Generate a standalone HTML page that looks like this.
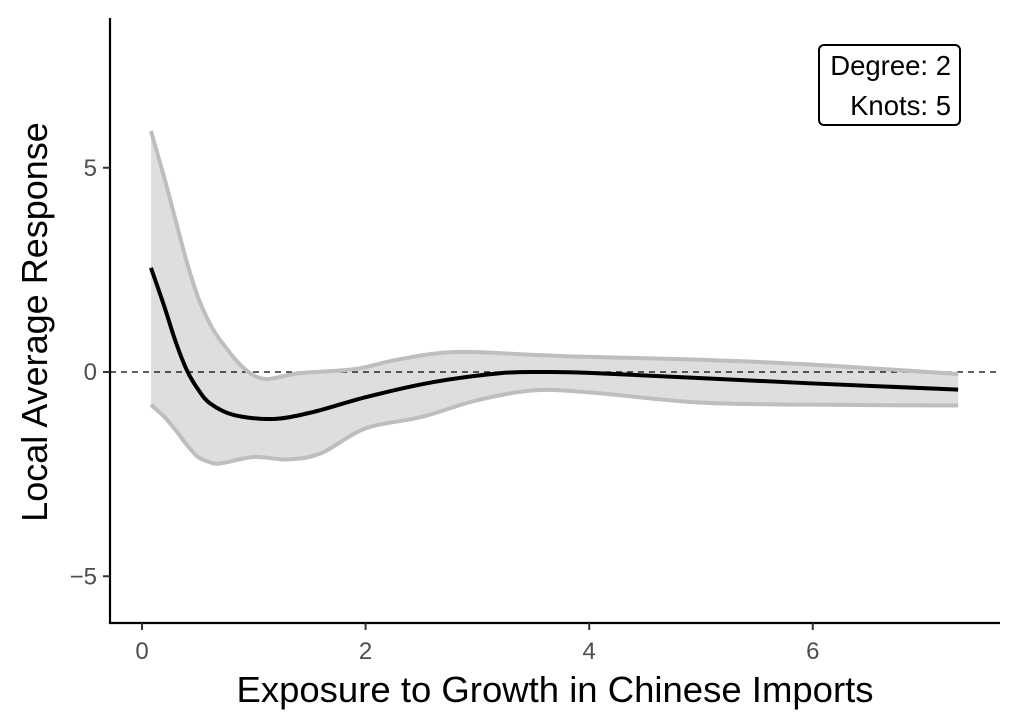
<!DOCTYPE html>
<html><head><meta charset="utf-8"><style>
body{margin:0;background:#fff}
svg{display:block;font-family:"Liberation Sans",sans-serif}
</style></head><body>
<svg width="1019" height="728">
<g id="plot"></g>
<line x1="110" y1="18" x2="110" y2="624" stroke="#000" stroke-width="2.2"/>
<line x1="109" y1="623" x2="1000" y2="623" stroke="#000" stroke-width="2.2"/>
<g id="ticks"></g>
<text x="47" y="322" font-size="36" text-anchor="middle" transform="rotate(-90 47 322)">Local Average Response</text>
<text x="555" y="702" font-size="36.5" text-anchor="middle">Exposure to Growth in Chinese Imports</text>
<g>
<rect x="819" y="45" width="141" height="80" rx="5" fill="#fff" stroke="#000" stroke-width="2"/>
<text x="951" y="75" font-size="27.5" text-anchor="end">Degree: 2</text>
<text x="951" y="115" font-size="27.5" text-anchor="end">Knots: 5</text>
</g>
</svg>
<script>
const fitX=[0.08,0.2,0.3,0.4,0.5,0.61,0.82,1.17,1.53,2.01,2.6,3.2,3.6,4,5,6,7.3];
const fitY=[2.55,1.6,0.75,0.05,-0.42,-0.77,-1.05,-1.15,-0.98,-0.61,-0.25,-0.03,0,-0.02,-0.15,-0.28,-0.43];
const upX=[0.08,0.2,0.3,0.4,0.5,0.6,0.7,0.9,1.1,1.4,1.9,2.3,2.8,3.5,4,5,6,7.3];
const upY=[5.9,4.75,3.72,2.7,1.84,1.22,0.78,0.12,-0.17,-0.03,0.07,0.31,0.49,0.42,0.37,0.3,0.18,-0.05];
const loX=[0.08,0.2,0.3,0.4,0.5,0.6,0.7,1.0,1.3,1.6,2.0,2.5,3.0,3.5,4,5,6,7.3];
const loY=[-0.8,-1.1,-1.42,-1.78,-2.08,-2.2,-2.24,-2.08,-2.14,-1.99,-1.38,-1.1,-0.69,-0.45,-0.5,-0.75,-0.8,-0.82];
const xTicks=[0,2,4,6];
const yTicks=[-5,0,5];
const yTickLabels=["\u22125","0","5"];
const sx=v=>142+v*111.8, sy=v=>372-v*40.85;
const NS="http://www.w3.org/2000/svg";
function mk(tag,attrs,parent){const e=document.createElementNS(NS,tag);for(const k in attrs)e.setAttribute(k,attrs[k]);parent.appendChild(e);return e;}
function pts(xs,ys){return xs.map((x,i)=>[sx(x),sy(ys[i])]);}
function smooth(p){let d="";for(let i=0;i<p.length-1;i++){const p0=p[Math.max(i-1,0)],p1=p[i],p2=p[i+1],p3=p[Math.min(i+2,p.length-1)];
const c1=[p1[0]+(p2[0]-p0[0])/6,p1[1]+(p2[1]-p0[1])/6],c2=[p2[0]-(p3[0]-p1[0])/6,p2[1]-(p3[1]-p1[1])/6];
d+=` C${c1[0]},${c1[1]} ${c2[0]},${c2[1]} ${p2[0]},${p2[1]}`;}return d;}
const g=document.getElementById("plot");
const up=pts(upX,upY), lo=pts(loX,loY).reverse();
const ribbon=mk("path",{d:`M${up[0][0]},${up[0][1]}`+smooth(up)+` L${lo[0][0]},${lo[0][1]}`+smooth(lo)+"Z",fill:"#dedede"},g);


const zl=mk("line",{x1:110,x2:1000,y1:sy(0),y2:sy(0),stroke:"#000","stroke-width":1.3,"stroke-dasharray":"6,5"},g);


const ub=mk("path",{d:`M${up[0][0]},${up[0][1]}`+smooth(up),fill:"none",stroke:"#bebebe","stroke-width":4},g);


const lop=pts(loX,loY);
const lb=mk("path",{d:`M${lop[0][0]},${lop[0][1]}`+smooth(lop),fill:"none",stroke:"#bebebe","stroke-width":4},g);


const fp=pts(fitX,fitY);
const fl=mk("path",{d:`M${fp[0][0]},${fp[0][1]}`+smooth(fp),fill:"none",stroke:"#000","stroke-width":4},g);


const t=document.getElementById("ticks");
xTicks.forEach(v=>{const l=mk("line",{x1:sx(v),x2:sx(v),y1:623,y2:630,stroke:"#333","stroke-width":2},t);


const tx=mk("text",{x:sx(v),y:659,"font-size":24,fill:"#4d4d4d","text-anchor":"middle"},t);tx.textContent=v;

});
yTicks.forEach((v,i)=>{const l=mk("line",{x1:103,x2:110,y1:sy(v),y2:sy(v),stroke:"#333","stroke-width":2},t);


const tx=mk("text",{x:97,y:sy(v)+8,"font-size":24,fill:"#4d4d4d","text-anchor":"end"},t);tx.textContent=yTickLabels[i];

});
</script>
</body></html>
